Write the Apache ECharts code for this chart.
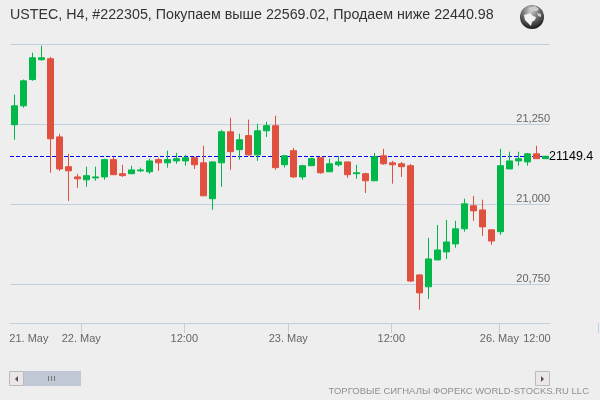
<!DOCTYPE html>
<html>
<head>
<meta charset="utf-8">
<style>html,body{margin:0;padding:0;background:#eeeeee}#chart{width:600px;height:400px}</style>
<script src="https://cdn.jsdelivr.net/npm/echarts@6/dist/echarts.min.js"></script>
</head>
<body>
<div id="chart"></div>
<script>
var opens = [21248,21307,21389,21451,21454,21210,21117,21085,21076,21082,21085,21139,21095,21095,21104,21101,21139,21129,21135,21135,
  21145,21129,21017,21129,21226,21170,21214,21154,21229,21245,21123,21167,21085,21120,21145,21101,21123,21132,21095,21095,
  21073,21151,21129,21126,21120,20779,20742,20826,20851,20876,20923,20995,20982,20920,20914,21110,21135,21132,21157,21142];
var closes = [21307,21385,21457,21457,21204,21110,21104,21079,21089,21085,21139,21092,21089,21107,21107,21135,21129,21139,21142,21145,
  21123,21026,21132,21226,21164,21201,21154,21229,21245,21114,21151,21085,21120,21142,21098,21126,21132,21092,21098,21073,
  21148,21126,21123,21117,20760,20723,20829,20857,20882,20923,21001,20979,20929,20885,21120,21135,21142,21157,21142,21149.4];
var lows = [21201,21301,21385,21448,21098,21104,21010,21051,21054,21073,21076,21092,21085,21095,21100,21095,21104,21114,21126,21120,
  21110,21026,20982,21054,21107,21139,21151,21135,21210,21107,21114,21082,21076,21120,21095,21101,21117,21082,21079,21035,
  21073,21123,21064,21085,20757,20670,20704,20826,20829,20864,20914,20948,20901,20873,20904,21110,21120,21120,21142,21142];
var highs = [21342,21389,21473,21495,21460,21220,21157,21095,21117,21117,21142,21148,21123,21120,21114,21142,21145,21167,21160,21154,
  21148,21182,21132,21232,21270,21220,21264,21251,21257,21276,21154,21176,21123,21145,21145,21142,21151,21132,21123,21098,
  21160,21173,21135,21132,21126,20782,20895,20935,20951,20948,21017,21026,21014,20920,21173,21164,21164,21160,21182,21151];

var lastPrice = 21149.4;
var yGridValues = [20750, 21000, 21250, 21500];
var yLabelValues = [20750, 21000, 21250];

// x is measured in candles, the time ticks fall between them
var xTickValues = [7.42, 18.87, 30.42, 41.87, 53.87];
var xLabelValues = [1.6, 7.42, 18.87, 30.42, 41.87, 53.87, 58.05];
var xLabelTexts = ['21. May', '22. May', '12:00', '23. May', '12:00', '26. May', '12:00'];

var titleText = 'USTEC, H4, #222305, Покупаем выше 22569.02, Продаем ниже 22440.98';
var footerText = 'ТОРГОВЫЕ СИГНАЛЫ ФОРЕКС WORLD-STOCKS.RU LLC';

var candles = [];
for (var i = 0; i < opens.length; i++) {
  candles.push([i, opens[i], closes[i], lows[i], highs[i]]);
}

var font = '"Liberation Sans", Arial, sans-serif';
var lineColor = '#c0d0e0';

var chart = echarts.init(document.getElementById('chart'));
chart.setOption({
  animation: false,
  backgroundColor: '#eeeeee',
  textStyle: { fontFamily: font },
  title: {
    text: titleText,
    left: 5,
    top: 3,
    textStyle: { fontFamily: font, fontSize: 14.25, fontWeight: 'normal', color: '#333333' }
  },
  grid: { left: 10, right: 50, top: 44, bottom: 77 },
  xAxis: {
    type: 'value',
    min: -0.5,
    max: 59.5,
    splitLine: { show: false },
    axisLine: { show: true, lineStyle: { color: lineColor, width: 1 } },
    axisTick: { show: true, length: 10, lineStyle: { color: lineColor }, customValues: xTickValues },
    axisLabel: {
      color: '#666666',
      fontSize: 11,
      margin: 10,
      customValues: xLabelValues,
      hideOverlap: false,
      formatter: function (v) {
        return xLabelTexts[xLabelValues.indexOf(v)];
      }
    }
  },
  yAxis: {
    type: 'value',
    position: 'right',
    min: 20629,
    max: 21500,
    axisLine: { show: false },
    axisTick: { show: false, customValues: yGridValues },
    splitLine: { show: true, lineStyle: { color: lineColor, width: 1 }, customValues: yGridValues },
    axisLabel: {
      inside: true,
      margin: 0,
      color: '#666666',
      fontSize: 11,
      verticalAlign: 'bottom',
      customValues: yLabelValues,
      formatter: function (v) {
        return String(v).replace(/(\d)(\d{3})$/, '$1,$2');
      }
    }
  },
  series: [{
    type: 'candlestick',
    barWidth: 7,
    encode: { x: 0, y: [1, 2, 3, 4] },
    data: candles,
    itemStyle: {
      color: '#00b84a',
      color0: '#e0503f',
      borderColor: '#00b84a',
      borderColor0: '#e0503f',
      borderWidth: 1
    },
    markLine: {
      z: 1,
      symbol: 'none',
      silent: true,
      lineStyle: { color: '#0000ff', type: [4, 2], width: 1 },
      label: { position: 'end', distance: -1, color: '#000000', fontSize: 12.5, fontFamily: font, formatter: String(lastPrice) },
      data: [{ yAxis: lastPrice }]
    }
  }],
  graphic: [
    // stray tick past the end of the axis
    { type: 'line', shape: { x1: 598.5, y1: 323, x2: 598.5, y2: 333 }, style: { stroke: lineColor } },
    // scrollbar
    { type: 'rect', shape: { x: 9.5, y: 371.5, width: 14, height: 14 }, style: { fill: '#ebe7e8', stroke: '#bbbbbb' } },
    { type: 'polygon', shape: { points: [[18, 376], [18, 382], [15, 379]] }, style: { fill: '#555555' } },
    { type: 'rect', shape: { x: 24, y: 371, width: 57, height: 15 }, style: { fill: '#bfc8d4' } },
    { type: 'rect', shape: { x: 48, y: 376, width: 1, height: 5 }, style: { fill: '#777777' } },
    { type: 'rect', shape: { x: 51, y: 376, width: 1, height: 5 }, style: { fill: '#777777' } },
    { type: 'rect', shape: { x: 54, y: 376, width: 1, height: 5 }, style: { fill: '#777777' } },
    { type: 'rect', shape: { x: 535.5, y: 371.5, width: 14, height: 14 }, style: { fill: '#ebe7e8', stroke: '#bbbbbb' } },
    { type: 'polygon', shape: { points: [[541, 376], [541, 382], [544, 379]] }, style: { fill: '#555555' } },
    // footer
    { type: 'text', x: 589, y: 391, style: { text: footerText, fill: '#909090', font: '9.5px ' + font, textAlign: 'right', textVerticalAlign: 'middle' } },
    // globe
    { type: 'circle', shape: { cx: 532, cy: 17, r: 12 }, style: {
      fill: new echarts.graphic.RadialGradient(0.45, 0.25, 0.8, [
        { offset: 0, color: '#d0d0d0' }, { offset: 0.5, color: '#666666' }, { offset: 1, color: '#111111' }
      ])
    } },
    { type: 'polygon', shape: { points: [[524, 15], [530, 13], [533, 16], [536, 17], [535, 20], [532, 22], [531, 26], [528, 23], [525, 20]] }, style: { fill: '#f2f2f2' } },
    { type: 'polygon', shape: { points: [[528, 8], [535, 6], [539, 9], [537, 11], [532, 11]] }, style: { fill: '#cccccc' } },
    { type: 'polygon', shape: { points: [[537, 13], [541, 14], [541, 17], [538, 16]] }, style: { fill: '#cccccc' } }
  ]
});
</script>
</body>
</html>
